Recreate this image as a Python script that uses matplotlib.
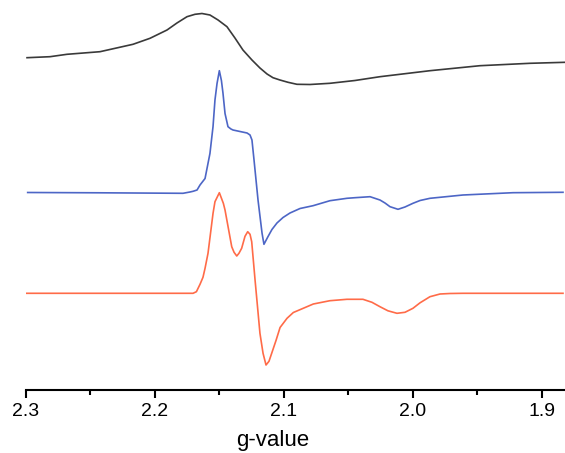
import matplotlib
matplotlib.use("Agg")
import matplotlib.pyplot as plt
from matplotlib.ticker import MultipleLocator

plt.rcParams['font.family'] = ['Liberation Sans', 'DejaVu Sans']

# Black spectrum (top)
g_black = [2.2992, 2.2814, 2.2682, 2.2426, 2.2170, 2.2038, 2.1906, 2.1829, 2.1751,
           2.1689, 2.1635, 2.1573, 2.1510, 2.1441, 2.1379, 2.1317, 2.1247, 2.1185,
           2.1130, 2.1084, 2.1030, 2.0967, 2.0898, 2.0797, 2.0642, 2.0448, 2.0254,
           1.9866, 1.9478, 1.9090, 1.8818]
i_black = [2.3, 3.3, 5.7, 8.3, 15.7, 21.7, 30.0, 37.0, 43.3,
           45.7, 46.5, 45.0, 40.0, 33.3, 22.0, 10.0, 0.0, -8.0,
           -14.0, -17.7, -20.0, -22.3, -24.3, -24.5, -23.3, -20.5, -16.7,
           -10.7, -5.7, -3.3, -2.3]

# Blue spectrum (middle)
g_blue = [2.2987, 2.2426, 2.1782, 2.1728, 2.1704, 2.1673, 2.1650, 2.1611, 2.1573,
          2.1549, 2.1534, 2.1518, 2.1500, 2.1484, 2.1472, 2.1456, 2.1433, 2.1410,
          2.1394, 2.1340, 2.1285, 2.1262, 2.1247, 2.1231, 2.1200, 2.1169, 2.1154,
          2.1123, 2.1092, 2.1053, 2.1006, 2.0952, 2.0874, 2.0773, 2.0642, 2.0510,
          2.0448, 2.0331, 2.0254, 2.0215, 2.0176, 2.0114, 2.0060, 1.9998, 1.9943,
          1.9866, 1.9610, 1.9222, 1.8834]
i_blue = [0.0, -0.3, -0.8, 0.5, 1.2, 2.5, 7.5, 14.0, 39.0,
          66.0, 92.5, 109.0, 121.8, 112.0, 99.5, 79.0, 65.8, 63.5,
          62.5, 61.0, 59.5, 57.5, 52.5, 32.5, -7.5, -40.5, -51.8,
          -44.2, -37.0, -30.5, -25.0, -20.5, -16.0, -13.2, -8.2, -5.8,
          -5.2, -4.2, -7.5, -10.5, -14.2, -16.8, -14.5, -10.8, -8.0,
          -5.8, -2.5, -0.2, 0.2]

# Red spectrum (bottom)
g_red = [2.2995, 2.1704, 2.1678, 2.1650, 2.1627, 2.1611, 2.1588, 2.1549, 2.1534,
         2.1500, 2.1469, 2.1456, 2.1404, 2.1386, 2.1365, 2.1348, 2.1327, 2.1301,
         2.1280, 2.1262, 2.1249, 2.1223, 2.1185, 2.1161, 2.1138, 2.1115, 2.1094,
         2.1060, 2.1029, 2.0975, 2.0926, 2.0771, 2.0642, 2.0510, 2.0386, 2.0316,
         2.0254, 2.0192, 2.0122, 2.0060, 1.9998, 1.9943, 1.9866, 1.9788, 1.9711,
         1.9610, 1.8834]
i_red = [0.0, 0.0, 1.6, 9.0, 16.0, 25.0, 40.0, 80.0, 91.6,
         100.6, 90.0, 83.3, 46.6, 41.0, 37.3, 40.0, 45.0, 57.0,
         61.6, 59.0, 51.6, 13.3, -40.0, -60.0, -71.7, -68.0, -60.0,
         -47.0, -34.2, -25.0, -19.2, -10.7, -7.4, -6.0, -6.0, -9.0,
         -13.4, -17.5, -20.0, -19.0, -15.0, -9.5, -3.4, -0.7, -0.2,
         0.0, 0.0]

offset_black = 330.0
offset_blue = 197.5
offset_red = 96.7

xticks = [2.3, 2.2, 2.1, 2.0, 1.9]
xtick_labels = ["2.3", "2.2", "2.1", "2.0", "1.9"]

fig = plt.figure(figsize=(5.65, 4.53), dpi=100)
ax = fig.add_axes([26 / 565, 63 / 453, 539 / 565, 390 / 453])

ax.plot(g_black, [v + offset_black for v in i_black], color="#3a3a3a", lw=1.2,
        solid_joinstyle="round")
ax.plot(g_blue, [v + offset_blue for v in i_blue], color="#4d66c6", lw=1.2,
        solid_joinstyle="round")
ax.plot(g_red, [v + offset_red for v in i_red], color="#ff6b48", lw=1.2,
        solid_joinstyle="round")

ax.set_xlim(2.3, 2.3 - 539 / 1289)
ax.set_ylim(0, 390)

for s in ("top", "left", "right"):
    ax.spines[s].set_visible(False)
ax.spines["bottom"].set_linewidth(1.5)
ax.set_yticks([])
ax.set_xticks(xticks)
ax.set_xticklabels(xtick_labels, fontsize=14)
ax.xaxis.set_minor_locator(MultipleLocator(0.05))
ax.tick_params(axis="x", which="major", direction="out", length=5.5, width=1.5, pad=4)
ax.tick_params(axis="x", which="minor", direction="out", length=3.5, width=1.5)
ax.set_xlabel("g-value", fontsize=16)
ax.xaxis.set_label_coords((273 - 26) / 539, -0.103)

fig.savefig("out.png", dpi=100)
